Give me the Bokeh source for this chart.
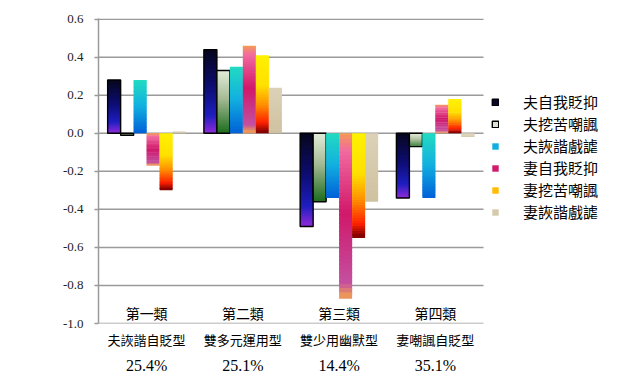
import numpy as np
from bokeh.plotting import figure
from bokeh.models import (Range1d, LinearAxis, FixedTicker, NumeralTickFormatter,
                          ColumnDataSource, Legend, LegendItem)
from bokeh.core.properties import value
from bokeh.embed import file_html
from bokeh.resources import INLINE

# ---------------- data ----------------
groups = ["第一類", "第二類", "第三類", "第四類"]
types = ["夫詼諧自貶型", "雙多元運用型", "雙少用幽默型", "妻嘲諷自貶型"]
shares = ["25.4%", "25.1%", "14.4%", "35.1%"]
series = ["夫自我貶抑", "夫挖苦嘲諷", "夫詼諧戲謔", "妻自我貶抑", "妻挖苦嘲諷", "妻詼諧戲謔"]

husband_self = [0.28, 0.44, -0.49, -0.34]
husband_sarcasm = [-0.01, 0.33, -0.36, -0.07]
husband_play = [0.28, 0.35, -0.34, -0.34]
wife_self = [-0.17, 0.46, -0.87, 0.15]
wife_sarcasm = [-0.30, 0.41, -0.55, 0.18]
wife_play = [0.01, 0.24, -0.36, -0.02]
values = [husband_self, husband_sarcasm, husband_play, wife_self, wife_sarcasm, wife_play]

y_ticks = [-1.0, -0.8, -0.6, -0.4, -0.2, 0.0, 0.2, 0.4, 0.6]

# ---------------- styles ----------------
gradients = [
    [(0.0, "#06061a"), (0.45, "#0c0c70"), (0.8, "#1e1ec0"), (1.0, "#8a2ad8")],
    [(0.0, "#e4eedc"), (0.45, "#a8bc98"), (1.0, "#1f6e1f")],
    [(0.0, "#22dcc0"), (0.5, "#12b0e0"), (1.0, "#0062d8")],
    [(0.0, "#f4a24c"), (0.12, "#f26aa0"), (0.5, "#d0186a"), (0.92, "#c450a0"), (1.0, "#f2a050")],
    [(0.0, "#fff200"), (0.4, "#ffe000"), (0.65, "#ff9000"), (0.88, "#ff2000"), (1.0, "#7a0000")],
    [(0.0, "#dcd2b8"), (1.0, "#cfc2a0")],
]
outlined = [True, True, False, False, False, False]
grid_color = "#9a9a9a"
N_BANDS = 40
bar_w = 0.135

W, H = 627, 376
LEFT, TOP, BOTTOM = 98, 18, 52
PLOT_PX = 385  # pixel width of the bar area


def hex2rgb(h):
    h = h.lstrip("#")
    return np.array([int(h[i:i + 2], 16) for i in (0, 2, 4)], dtype=float)


def interp(stops, t):
    for (t0, c0), (t1, c1) in zip(stops[:-1], stops[1:]):
        if t <= t1:
            f = 0 if t1 == t0 else (t - t0) / (t1 - t0)
            c = hex2rgb(c0) * (1 - f) + hex2rgb(c1) * f
            return "#%02x%02x%02x" % tuple(int(round(v)) for v in c)
    return stops[-1][1]


n_groups = len(groups)
x_end = n_groups * (W - LEFT) / PLOT_PX

p = figure(width=W, height=H, output_backend="svg", toolbar_location=None,
           x_range=Range1d(0, x_end), y_range=Range1d(-1.0, 0.6035),
           min_border_left=LEFT, min_border_right=0, min_border_top=TOP,
           min_border_bottom=BOTTOM)
p.outline_line_color = None
p.background_fill_color = "white"
p.border_fill_color = "white"
p.xgrid.grid_line_color = None
p.ygrid.grid_line_color = None

# horizontal gridlines over the bar area only
p.segment(x0=[0] * len(y_ticks), x1=[n_groups] * len(y_ticks), y0=y_ticks, y1=y_ticks,
          line_color=grid_color, line_width=1.5)

# gradient bars
centers = np.arange(n_groups) + 0.5
n = len(series)
legend_items = []
for i, vals in enumerate(values):
    L, R, T, B, C = [], [], [], [], []
    for j, v in enumerate(vals):
        xc = centers[j] + (i - (n - 1) / 2) * bar_w
        top, bot = max(v, 0.0), min(v, 0.0)
        h = top - bot
        ov = h / N_BANDS * 0.6
        for k in range(N_BANDS):
            t0, t1 = k / N_BANDS, (k + 1) / N_BANDS
            L.append(xc - bar_w / 2)
            R.append(xc + bar_w / 2)
            T.append(top - h * t0 + (ov if k > 0 else 0))
            B.append(top - h * t1)
            C.append(interp(gradients[i], (t0 + t1) / 2))
    src = ColumnDataSource(dict(left=L, right=R, top=T, bottom=B, color=C))
    band = p.quad(left="left", right="right", top="top", bottom="bottom", source=src,
                  fill_color="color", line_color=None)
    rends = [band]
    idx = N_BANDS // 2
    if outlined[i]:
        xs = [centers[j] + (i - (n - 1) / 2) * bar_w for j in range(len(vals))]
        outline = p.vbar(x=xs, width=bar_w, top=[max(v, 0) for v in vals],
                         bottom=[min(v, 0) for v in vals], fill_color=None,
                         line_color="black", line_width=1.4)
        rends.append(outline)
        idx = 3
    legend_items.append(LegendItem(label=series[i], renderers=rends, index=idx))

# group names inside the plot
p.text(x=list(centers), y=[-1.0] * n_groups, text=groups, text_align="center",
       text_baseline="middle", y_offset=-11, text_font=value("Noto Sans CJK TC"),
       text_font_size="14px", text_color="black")

# axes
p.yaxis.ticker = FixedTicker(ticks=y_ticks)
p.yaxis.formatter = NumeralTickFormatter(format="0.0")
p.yaxis.axis_line_color = grid_color
p.yaxis.axis_line_width = 1.5
p.yaxis.major_tick_line_color = grid_color
p.yaxis.major_tick_line_width = 1.5
p.yaxis.major_tick_out = 4
p.yaxis.major_tick_in = 0
p.yaxis.minor_tick_line_color = None
p.yaxis.major_label_text_font = "Liberation Serif"
p.yaxis.major_label_text_font_size = "13px"
p.yaxis.major_label_text_color = "#222222"
p.yaxis.major_label_standoff = 11

xax = p.xaxis[0]
xax.ticker = FixedTicker(ticks=list(centers))
xax.major_label_overrides = {float(c): t for c, t in zip(centers, types)}
xax.axis_line_color = None
xax.major_tick_line_color = None
xax.major_tick_out = 0
xax.major_tick_in = 0
xax.minor_tick_line_color = None
xax.major_label_text_font = "Noto Sans CJK TC"
xax.major_label_text_font_size = "13px"
xax.major_label_text_color = "black"
xax.major_label_standoff = 6

ax2 = LinearAxis(ticker=FixedTicker(ticks=list(centers)))
ax2.major_label_overrides = {float(c): s for c, s in zip(centers, shares)}
ax2.axis_line_color = None
ax2.major_tick_line_color = None
ax2.major_tick_out = 0
ax2.major_tick_in = 0
ax2.minor_tick_line_color = None
ax2.major_label_text_font = "Liberation Serif"
ax2.major_label_text_font_size = "16px"
ax2.major_label_text_color = "black"
ax2.major_label_standoff = 5
p.add_layout(ax2, "below")

legend = Legend(items=legend_items, location=(393, 101), orientation="vertical")
legend.glyph_width = 8
legend.glyph_height = 8
legend.label_height = 16
legend.spacing = 1
legend.padding = 0
legend.margin = 0
legend.label_standoff = 24
legend.border_line_color = None
legend.background_fill_alpha = 0
legend.label_text_font = "Noto Sans CJK TC"
legend.label_text_font_size = "15px"
legend.label_text_color = "black"
p.add_layout(legend, "center")

open("out.html", "w").write(file_html(p, INLINE))
